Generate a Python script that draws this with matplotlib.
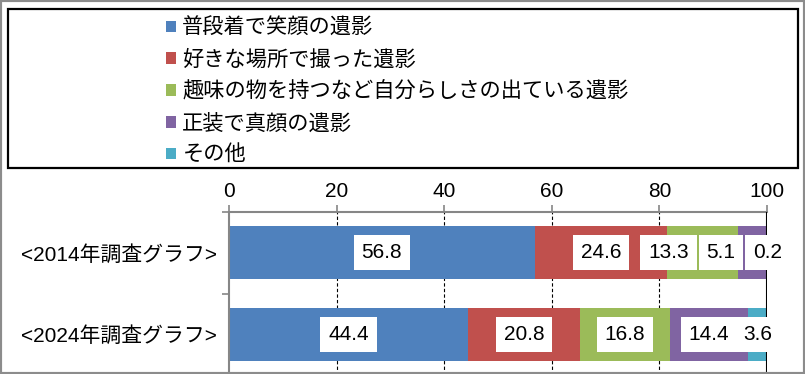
import matplotlib.pyplot as plt
import matplotlib.patches as mpatches
import numpy as np

# データ
YEARS  = ["<2014年調査グラフ>", "<2024年調査グラフ>"]
SERIES = ["普段着で笑顔の遺影", "好きな場所で撮った遺影",
          "趣味の物を持つなど自分らしさの出ている遺影", "正装で真顔の遺影", "その他"]
V2014  = [56.8, 24.6, 13.3, 5.1, 0.2]
V2024  = [44.4, 20.8, 16.8, 14.4, 3.6]
XTICKS = [0, 20, 40, 60, 80, 100]

COLORS = ["#4F81BD", "#C0504D", "#9BBB59", "#8064A2", "#4BACC6"]
# 2014年の小さい区間はラベルを左へずらして重ならないようにする（元図の手動配置）
LABEL_SHIFT = {(0, 2): -6.4, (0, 3): -5.8, (0, 4): 0.15}

plt.rcParams["font.family"] = ["Liberation Sans", "Noto Sans CJK JP"]
GRAY = "#868686"
W, H = 805, 374

fig = plt.figure(figsize=(W / 100, H / 100), dpi=100)
ax = fig.add_axes([229 / W, 1 - 375 / H, (767 - 229) / W, 163 / H])

vals = np.array([V2014, V2024])
y = np.arange(len(YEARS))
left = np.zeros(len(YEARS))
handles = []
for j, name in enumerate(SERIES):
    bars = ax.barh(y, vals[:, j], left=left, height=0.65, color=COLORS[j],
                   label=name, zorder=2)
    handles.append(bars)
    for i in range(len(YEARS)):
        cx = left[i] + vals[i, j] / 2 + LABEL_SHIFT.get((i, j), 0)
        ax.text(cx, y[i], f"{vals[i, j]:.1f}", ha="center", va="center",
                fontsize=15, zorder=5,
                bbox=dict(boxstyle="square,pad=0.38", fc="white", ec="none"))
    left += vals[:, j]

ax.set_xlim(0, 100)
ax.set_ylim(1.5, -0.5)
ax.set_xticks(XTICKS)
ax.xaxis.tick_top()
ax.tick_params(axis="x", colors=GRAY, length=5, width=1.2, labelsize=15,
               labelcolor="black", pad=3)
ax.set_yticks(y)
ax.set_yticklabels(YEARS)
ax.set_yticks([-0.5, 0.5, 1.5], minor=True)
ax.tick_params(axis="y", which="major", length=0, labelsize=15, pad=9)
ax.tick_params(axis="y", which="minor", length=5, width=1.2, color=GRAY)

for x in XTICKS[1:-1]:
    ax.axvline(x, color="black", lw=0.8, ls=(0, (3, 2)), zorder=1)
ax.axvline(100, color="black", lw=1.5, zorder=3)

for s in ("right", "bottom"):
    ax.spines[s].set_visible(False)
for s in ("top", "left"):
    ax.spines[s].set_color(GRAY)
    ax.spines[s].set_linewidth(1.5)

# 凡例
fig.legend(handles=handles, labels=SERIES, loc="upper left",
           bbox_to_anchor=(166 / W, 1 - 17 / H), frameon=False,
           prop={"family": "Noto Sans CJK JP", "size": 15.3},
           handlelength=0.47, handleheight=0.47, handletextpad=0.3,
           labelspacing=0.46, borderpad=0, borderaxespad=0)
fig.patches.append(mpatches.Rectangle((8 / W, 1 - 168 / H), 790 / W, 159 / H,
                                      transform=fig.transFigure, fill=False,
                                      ec="black", lw=1.6))
fig.patches.append(mpatches.Rectangle((0, 0), 1, 1, transform=fig.transFigure,
                                      fill=False, ec="#8C8C8C", lw=3))

fig.savefig("out.png", dpi=100)
